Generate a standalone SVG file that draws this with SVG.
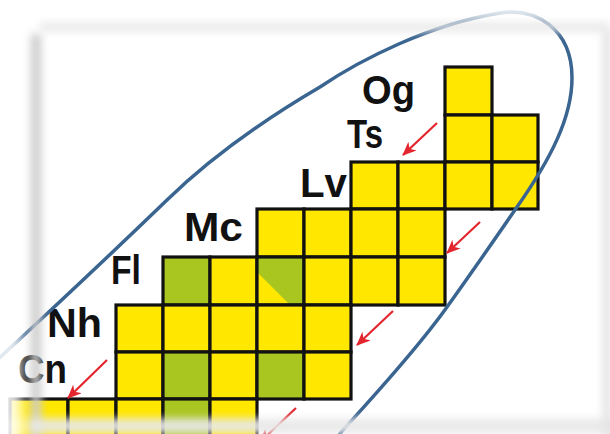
<svg xmlns="http://www.w3.org/2000/svg" width="610" height="434" viewBox="0 0 610 434">
<style>
.y{fill:#FFE700;stroke:#111;stroke-width:3.2}
.g{fill:#A9C520;stroke:#111;stroke-width:3.2}
.lbl{font-family:"Liberation Sans",Arial,sans-serif;font-weight:bold;font-size:41px;fill:#111}
.arr{stroke:#E3262E;stroke-width:2.2;fill:none;marker-end:url(#ah)}
</style>
<defs>
<marker id="ah" viewBox="0 0 14 12" refX="13" refY="6" markerWidth="14" markerHeight="12" markerUnits="userSpaceOnUse" orient="auto">
<path d="M0,0 L14,6 L0,12 L4,6 Z" fill="#E3262E"/>
</marker>
<filter id="soft" filterUnits="userSpaceOnUse" x="-100" y="-100" width="810" height="634">
<feGaussianBlur stdDeviation="6"/>
</filter>
<filter id="soft2" filterUnits="userSpaceOnUse" x="-100" y="-100" width="810" height="634">
<feGaussianBlur stdDeviation="4.5"/>
</filter>
</defs>
<rect width="610" height="434" fill="#fff"/>

<g id="cells">
<rect class="y" x="445" y="67" width="47" height="48"/>
<rect class="y" x="445" y="115" width="47" height="47"/>
<rect class="y" x="492" y="115" width="46" height="47"/>
<rect class="y" x="351" y="162" width="47" height="47"/>
<rect class="y" x="398" y="162" width="47" height="47"/>
<rect class="y" x="445" y="162" width="47" height="47"/>
<rect class="y" x="492" y="162" width="46" height="47"/>
<rect class="y" x="257" y="209" width="47" height="48"/>
<rect class="y" x="304" y="209" width="47" height="48"/>
<rect class="y" x="351" y="209" width="47" height="48"/>
<rect class="y" x="398" y="209" width="47" height="48"/>
<rect class="g" x="163" y="257" width="47" height="48"/>
<rect class="y" x="210" y="257" width="47" height="48"/>
<rect x="257" y="257" width="47" height="48" fill="#FFE700"/>
<polygon points="257,257 304,257 304,305 290,305 257,272" fill="#A9C520"/>
<rect x="257" y="257" width="47" height="48" fill="none" stroke="#111" stroke-width="3.2"/>
<rect class="y" x="304" y="257" width="47" height="48"/>
<rect class="y" x="351" y="257" width="47" height="48"/>
<rect class="y" x="398" y="257" width="47" height="48"/>
<rect class="y" x="116" y="305" width="47" height="47"/>
<rect class="y" x="163" y="305" width="47" height="47"/>
<rect class="y" x="210" y="305" width="47" height="47"/>
<rect class="y" x="257" y="305" width="47" height="47"/>
<rect class="y" x="304" y="305" width="47" height="47"/>
<rect class="y" x="116" y="352" width="47" height="47"/>
<rect class="g" x="163" y="352" width="47" height="47"/>
<rect class="y" x="210" y="352" width="47" height="47"/>
<rect class="g" x="257" y="352" width="47" height="47"/>
<rect class="y" x="304" y="352" width="47" height="47"/>
<rect class="y" x="10" y="399" width="58" height="47"/>
<rect class="y" x="68" y="399" width="48" height="47"/>
<rect class="y" x="116" y="399" width="47" height="47"/>
<rect class="g" x="163" y="399" width="47" height="47"/>
<rect class="y" x="210" y="399" width="47" height="47"/>
</g>

<g id="label-og"><text class="lbl" x="362" y="104" textLength="53" lengthAdjust="spacingAndGlyphs">Og</text></g>
<g id="label-ts"><text class="lbl" x="347" y="148" textLength="36" lengthAdjust="spacingAndGlyphs">Ts</text></g>
<g id="label-lv"><text class="lbl" x="300" y="197" textLength="47" lengthAdjust="spacingAndGlyphs">Lv</text></g>
<g id="label-mc"><text class="lbl" x="184" y="241" textLength="59" lengthAdjust="spacingAndGlyphs">Mc</text></g>
<g id="label-fl"><text class="lbl" x="111" y="284" textLength="30" lengthAdjust="spacingAndGlyphs">Fl</text></g>
<g id="label-nh"><text class="lbl" x="47" y="337" textLength="55" lengthAdjust="spacingAndGlyphs">Nh</text></g>
<g id="label-cn"><text class="lbl" x="18" y="383" textLength="49" lengthAdjust="spacingAndGlyphs">Cn</text></g>

<g id="ellipse">
<path d="M-5,362 C60,302 110,255 167,200 C205,163 250,128 320,87 C360,60 430,24 500,13 C535,7.5 572,28 572,78 C572,118 550,160 517,207 C497,236 470,275 447,307 C425,338 375,395 343,430 C335,440 328,448 320,458" fill="none" stroke="#3B6591" stroke-width="3.5"/>
</g>

<g id="connectors">
<path class="arr" d="M437,123 L403,155"/>
<path class="arr" d="M480,222 L447,253"/>
<path class="arr" d="M393,311 L357,345"/>
<path class="arr" d="M107,360 L68,398"/>
<path class="arr" d="M296,408 L260,442"/>
</g>

<g id="frame">
<path d="M-100,-100 H710 V534 H-100 Z M22,22 V445 H606 V22 Z" fill-rule="evenodd" fill="#fff" fill-opacity="0.85" filter="url(#soft)"/>
<line x1="36" y1="34" x2="36" y2="440" stroke="#cccccc" stroke-width="10" filter="url(#soft2)"/>
<line x1="40" y1="27" x2="610" y2="27" stroke="#e6e6e6" stroke-width="8" filter="url(#soft2)"/>
<line x1="607" y1="30" x2="607" y2="440" stroke="#e0e0e0" stroke-width="8" filter="url(#soft2)"/>
<line x1="30" y1="426" x2="620" y2="426" stroke="#dadada" stroke-width="12" filter="url(#soft2)"/>
<rect x="0" y="418" width="610" height="16" fill="#fff" fill-opacity="0.35" filter="url(#soft2)"/>
</g>
</svg>
